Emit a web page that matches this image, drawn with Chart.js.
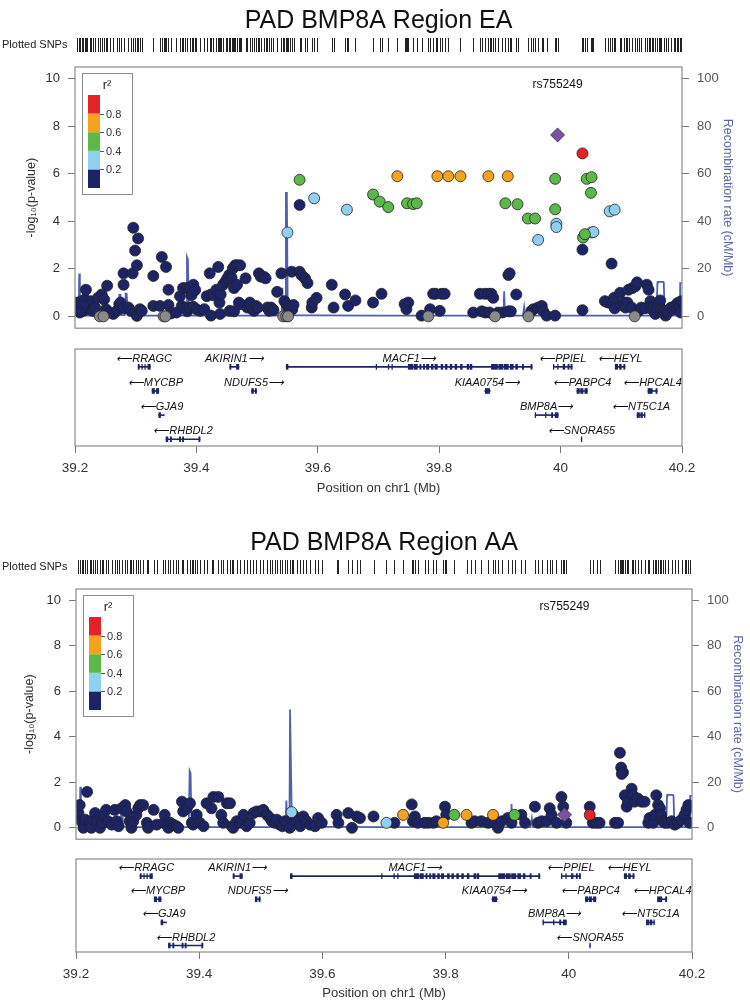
<!DOCTYPE html>
<html>
<head>
<meta charset="utf-8">
<title>PAD BMP8A Region</title>
<script src="https://cdn.jsdelivr.net/npm/chart.js@4.4.1/dist/chart.umd.min.js"></script>
<style>
  html, body { margin: 0; padding: 0; background: #fff; }
  #page { position: relative; width: 750px; height: 1006px; overflow: hidden; }
  #page canvas { position: absolute; left: 0; }
</style>
</head>
<body>
<div id="page">
  <canvas id="mainEA" width="750" height="344" style="top:0px"></canvas>
  <canvas id="genesEA" width="750" height="170" style="top:340px"></canvas>
  <canvas id="mainAA" width="750" height="333" style="top:522px"></canvas>
  <canvas id="genesAA" width="750" height="156" style="top:850px"></canvas>
</div>
<script>
'use strict';

// ---- EA association results (position Mb, -log10 p) grouped by r2 bin ----
var eaNavyPos = [
  39.204, 39.207, 39.211, 39.214, 39.216, 39.218, 39.220, 39.224, 39.226, 39.229,
  39.213, 39.208, 39.233, 39.238, 39.244, 39.248, 39.253, 39.251, 39.258, 39.263,
  39.269, 39.273, 39.275, 39.280, 39.280, 39.281, 39.288, 39.292, 39.295, 39.296,
  39.299, 39.302, 39.304, 39.302, 39.307, 39.310, 39.329, 39.329, 39.340, 39.343,
  39.350, 39.354, 39.354, 39.358, 39.367, 39.373, 39.378, 39.384, 39.389, 39.392,
  39.395, 39.398, 39.376, 39.381, 39.385, 39.389, 39.395, 39.400, 39.406, 39.413,
  39.417, 39.424, 39.422, 39.436, 39.428, 39.433, 39.438, 39.440, 39.424, 39.439,
  39.444, 39.448, 39.451, 39.454, 39.458, 39.460, 39.462, 39.464, 39.467, 39.472,
  39.467, 39.470, 39.473, 39.455, 39.462, 39.481, 39.484, 39.488, 39.492, 39.495,
  39.498, 39.501, 39.503, 39.506, 39.511, 39.514, 39.517, 39.520, 39.523, 39.527,
  39.533, 39.540, 39.545, 39.548, 39.551, 39.554, 39.558, 39.560, 39.557, 39.570,
  39.573, 39.579, 39.583, 39.590, 39.591, 39.598, 39.570, 39.623, 39.626, 39.645,
  39.650, 39.662, 39.691, 39.705, 39.743, 39.746, 39.749, 39.771, 39.785, 39.790,
  39.794, 39.804, 39.809, 39.801, 39.856, 39.867, 39.875, 39.881, 39.886, 39.889,
  39.870, 39.876, 39.883, 39.897, 39.904, 39.914, 39.918, 39.927, 39.914, 39.916,
  39.952, 39.955, 39.963, 39.969, 39.971, 39.977, 39.991, 40.036, 40.036, 40.084,
  40.073, 40.078, 40.085, 40.088, 40.089, 40.098, 40.100, 40.105, 40.107, 40.110,
  40.112, 40.118, 40.123, 40.126, 40.117, 40.129, 40.133, 40.139, 40.142, 40.145,
  40.148, 40.150, 40.153, 40.156, 40.159, 40.162, 40.164, 40.166, 40.170, 40.173,
  40.177, 40.182, 40.186, 40.188, 40.191, 40.194, 40.196, 40.198, 40.199
];
var eaNavyP = [
  0.58, 0.37, 0.64, 0.23, 0.71, 1.12, 0.51, 0.30, 0.64, 0.23,
  0.44, 0.16, 0.37, 0.78, 0.92, 0.71, 1.29, 0.30, 0.16, 0.10,
  0.23, 0.51, 0.58, 1.33, 1.81, 0.34, 0.37, 0.23, 1.81, 3.73,
  2.77, 2.15, 3.28, 0.02, 0.30, 0.23, 1.70, 0.44, 0.44, 2.50,
  2.08, 1.12, 0.48, 0.12, 0.16, 0.85, 1.19, 1.19, 1.19, 0.89,
  1.33, 1.11, 0.44, 0.34, 0.21, 0.37, 0.40, 0.30, 0.23, 0.30,
  0.85, 0.92, 1.81, 2.08, 0.89, 1.12, 0.58, 0.92, 0.03, 0.10,
  1.33, 1.47, 1.60, 1.74, 1.63, 2.02, 1.19, 2.15, 2.15, 2.15,
  1.33, 0.58, 0.51, 0.23, 0.21, 1.60, 0.37, 0.58, 0.30, 0.23,
  0.44, 0.37, 1.81, 1.67, 1.67, 1.60, 0.37, 0.23, 0.37, 0.26,
  1.03, 1.81, 0.64, 0.53, 0.42, 0.34, 0.29, 0.48, 1.88, 1.88,
  1.74, 1.60, 1.40, 0.37, 0.58, 0.78, 4.69, 1.33, 0.37, 0.92,
  0.44, 0.67, 0.58, 0.95, 0.51, 0.30, 0.58, 0.03, 0.30, 0.95,
  0.95, 0.95, 0.95, 0.23, 0.16, 0.95, 0.95, 0.95, 0.95, 0.78,
  0.21, 0.16, 0.16, 0.16, 0.16, 0.21, 0.21, 0.92, 1.74, 1.81,
  0.23, 0.30, 0.37, 0.44, 0.23, 0.03, 0.03, 2.81, 0.26, 2.22,
  0.64, 0.58, 0.53, 0.78, 0.34, 0.99, 0.48, 0.58, 0.37, 0.58,
  1.12, 1.19, 1.26, 1.43, 0.37, 0.23, 0.37, 0.34, 1.33, 1.12,
  0.64, 0.30, 0.40, 0.10, 0.37, 0.53, 0.67, 0.30, 0.23, 0.03,
  0.16, 0.37, 0.30, 0.40, 0.51, 0.58, 0.37, 0.16, 0.64
];
var eaGrayPos = [39.241, 39.247, 39.346, 39.349, 39.543, 39.548, 39.551, 39.782, 39.892, 39.947, 40.122];
var eaGrayP = [0, 0, 0, 0, 0, 0, 0, 0, 0, 0, 0];
var eaBluePos = [39.550, 39.594, 39.648, 39.963, 39.993, 39.993, 40.051, 40.054, 40.081, 40.089];
var eaBlueP = [3.53, 4.97, 4.49, 3.22, 3.90, 3.76, 3.53, 3.55, 4.42, 4.49];
var eaGreenPos = [39.570, 39.691, 39.702, 39.716, 39.747, 39.757, 39.763, 39.909, 39.929,
  39.946, 39.958, 39.991, 39.991, 40.043, 40.051, 40.050, 40.037, 40.040];
var eaGreenP = [5.75, 5.13, 4.83, 4.60, 4.76, 4.73, 4.76, 4.76, 4.72,
  4.12, 4.12, 5.79, 4.51, 5.79, 5.86, 5.20, 3.32, 3.46];
var eaOrangePos = [39.731, 39.797, 39.815, 39.835, 39.881, 39.913];
var eaOrangeP = [5.90, 5.90, 5.90, 5.90, 5.90, 5.90];
var eaRedPos = [40.036];
var eaRedP = [6.86];
var eaLeadPos = [39.995];
var eaLeadP = [7.64];

// ---- AA association results ----
var aaNavyPos = [
  39.204, 39.206, 39.209, 39.212, 39.215, 39.218, 39.223, 39.225, 39.228, 39.231,
  39.234, 39.239, 39.242, 39.244, 39.249, 39.252, 39.258, 39.263, 39.266, 39.269,
  39.274, 39.280, 39.282, 39.287, 39.290, 39.293, 39.298, 39.301, 39.304, 39.309,
  39.315, 39.317, 39.326, 39.331, 39.342, 39.344, 39.350, 39.353, 39.358, 39.363,
  39.366, 39.372, 39.374, 39.380, 39.385, 39.388, 39.390, 39.393, 39.396, 39.401,
  39.407, 39.412, 39.420, 39.423, 39.431, 39.436, 39.439, 39.445, 39.450, 39.453,
  39.455, 39.461, 39.466, 39.472, 39.477, 39.482, 39.488, 39.493, 39.499, 39.504,
  39.510, 39.515, 39.518, 39.523, 39.526, 39.531, 39.535, 39.539, 39.542, 39.547,
  39.553, 39.558, 39.564, 39.569, 39.574, 39.580, 39.588, 39.593, 39.599, 39.623,
  39.626, 39.642, 39.648, 39.656, 39.661, 39.683, 39.717, 39.745, 39.747, 39.750,
  39.755, 39.766, 39.772, 39.780, 39.785, 39.799, 39.801, 39.842, 39.847, 39.858,
  39.869, 39.880, 39.885, 39.891, 39.901, 39.907, 39.923, 39.929, 39.945, 39.950,
  39.956, 39.964, 39.969, 39.972, 39.980, 39.988, 39.991, 39.996, 40.034, 40.039,
  40.045, 40.050, 40.075, 40.080, 40.083, 40.085, 40.088, 40.086, 40.091, 40.094,
  40.096, 40.102, 40.104, 40.107, 40.112, 40.118, 40.123, 40.129, 40.131, 40.137,
  40.140, 40.142, 40.145, 40.148, 40.150, 40.153, 40.156, 40.161, 40.167, 40.172,
  40.177, 40.183, 40.188, 40.191, 40.194, 40.196
];
var aaNavyP = [
  0.65, 1.00, 0.29, 0.00, 0.36, 1.58, 0.22, 0.00, 0.36, 0.65,
  0.29, 0.00, 0.22, 0.57, 0.79, 0.29, 0.14, 0.79, 0.29, 0.07,
  0.86, 1.00, 0.72, 0.29, 0.00, 0.29, 0.57, 0.86, 1.00, 1.00,
  0.22, 0.00, 0.79, 0.14, 0.22, 0.57, 0.00, 0.22, 0.14, 0.07,
  0.00, 1.15, 0.72, 0.86, 1.08, 0.22, 0.14, 0.29, 0.57, 0.22,
  0.07, 1.08, 0.86, 1.36, 1.36, 0.57, 0.22, 1.08, 1.08, 0.07,
  0.00, 0.29, 0.22, 0.57, 0.07, 0.22, 0.65, 0.72, 0.72, 0.79,
  0.57, 0.43, 0.29, 0.22, 0.36, 0.14, 0.07, 0.29, 0.22, 0.00,
  0.57, 0.29, 0.07, 0.50, 0.29, 0.14, 0.07, 0.43, 0.22, 0.57,
  0.22, 0.65, 0.00, 0.50, 0.43, 0.50, 0.22, 1.03, 0.29, 0.50,
  0.22, 0.22, 0.22, 0.22, 0.29, 0.93, 0.57, 0.22, 0.29, 0.29,
  0.22, 0.22, 0.00, 0.29, 0.43, 0.22, 0.57, 0.22, 0.93, 0.22,
  0.29, 0.29, 0.86, 0.57, 0.22, 1.36, 0.93, 0.22, 0.93, 0.22,
  0.22, 0.22, 0.22, 0.22, 3.30, 2.65, 2.44, 2.37, 1.43, 0.93,
  1.15, 1.72, 1.43, 1.15, 1.29, 1.15, 1.15, 0.22, 0.43, 0.22,
  0.57, 1.43, 1.00, 0.86, 0.57, 0.29, 0.22, 0.22, 0.29, 0.14,
  0.22, 0.36, 0.57, 0.79, 1.00, 0.22
];
var aaGrayPos = [];
var aaGrayP = [];
var aaBluePos = [39.550, 39.704];
var aaBlueP = [0.69, 0.22];
var aaGreenPos = [39.814, 39.912];
var aaGreenP = [0.57, 0.57];
var aaOrangePos = [39.731, 39.796, 39.834, 39.877];
var aaOrangeP = [0.57, 0.22, 0.57, 0.57];
var aaRedPos = [40.034];
var aaRedP = [0.57];
var aaLeadPos = [39.993];
var aaLeadP = [0.57];

// ---- recombination rate (cM/Mb), same map for both panels ----
var recombPos = [
  39.200, 39.2045, 39.206, 39.207, 39.208, 39.210, 39.2125, 39.214, 39.2155, 39.220,
  39.270, 39.2715, 39.273, 39.275, 39.2765, 39.282, 39.2835, 39.285, 39.2875, 39.289,
  39.380, 39.383, 39.3845, 39.386, 39.3875, 39.391,
  39.530, 39.5405, 39.5415, 39.543, 39.5465, 39.5475, 39.549, 39.5505, 39.552, 39.556,
  39.600, 39.700, 39.900, 39.906, 39.907, 39.9085, 39.912, 39.938, 39.940, 39.942,
  40.100, 40.158, 40.1595, 40.160, 40.169, 40.170, 40.1715, 40.190, 40.1965, 40.197, 40.200
];
var recombRate = [
  5, 1, 1, 18, 1, 0.5, 0.5, 5, 0.5, 0.3,
  0.3, 0.5, 9, 9, 0.5, 0.5, 9.5, 9.5, 0.5, 0.3,
  0.3, 0.3, 25, 24, 0.5, 0.3,
  0.3, 0.5, 12, 0.5, 0.5, 52, 52, 0.5, 0.5, 0.4,
  0.4, 0.3, 0.3, 0.3, 10.5, 0.3, 0.3, 0.3, 4, 0.3,
  0.3, 0.3, 14, 14.5, 14.5, 14, 0.5, 0.3, 0.3, 14, 14
];

// ---- genes ----
var geneNames  = ['RRAGC', 'MYCBP', 'GJA9', 'RHBDL2', 'AKIRIN1', 'NDUFS5', 'MACF1', 'KIAA0754',
                  'PPIEL', 'PABPC4', 'BMP8A', 'SNORA55', 'HEYL', 'HPCAL4', 'NT5C1A'];
var geneStart  = [39.304, 39.327, 39.338, 39.350, 39.455, 39.491, 39.548, 39.875,
                  39.988, 40.027, 39.958, 40.034, 40.090, 40.144, 40.126];
var geneEnd    = [39.324, 39.338, 39.347, 39.406, 39.470, 39.499, 39.953, 39.884,
                  40.019, 40.044, 39.996, 40.035, 40.106, 40.159, 40.139];
var geneRow    = [1, 2, 3, 4, 1, 2, 1, 2, 1, 2, 3, 4, 1, 2, 3];
var geneStrand = [-1, -1, -1, -1, 1, 1, 1, 1, -1, -1, 1, -1, -1, -1, -1];
var geneExons  = [
  [[39.304, 39.306], [39.310, 39.311], [39.315, 39.316], [39.320, 39.324]],
  [[39.327, 39.331], [39.334, 39.338]],
  [[39.338, 39.341]],
  [[39.350, 39.353], [39.357, 39.359], [39.372, 39.374], [39.377, 39.379], [39.404, 39.406]],
  [[39.455, 39.457], [39.466, 39.470]],
  [[39.491, 39.494], [39.497, 39.499]],
  [[39.548, 39.551], [39.696, 39.697], [39.716, 39.717], [39.722, 39.723], [39.749, 39.757],
   [39.759, 39.764], [39.768, 39.770], [39.774, 39.776], [39.779, 39.783], [39.787, 39.790],
   [39.793, 39.797], [39.803, 39.806], [39.810, 39.813], [39.818, 39.821], [39.826, 39.829],
   [39.835, 39.838], [39.846, 39.849], [39.851, 39.854], [39.886, 39.896], [39.898, 39.905],
   [39.907, 39.914], [39.917, 39.922], [39.926, 39.929], [39.937, 39.939], [39.951, 39.953]],
  [[39.876, 39.883]],
  [[39.988, 39.989], [39.995, 39.996], [40.004, 40.007], [40.012, 40.014], [40.017, 40.019]],
  [[40.027, 40.031], [40.033, 40.037], [40.040, 40.044]],
  [[39.958, 39.959], [39.975, 39.976], [39.985, 39.987], [39.991, 39.996]],
  [[40.034, 40.035]],
  [[40.090, 40.094], [40.097, 40.100], [40.104, 40.106]],
  [[40.144, 40.151], [40.157, 40.159]],
  [[40.126, 40.130], [40.132, 40.135], [40.138, 40.139]]
];

// ---- axes ----
var pTicks = [0, 2, 4, 6, 8, 10];
var recombTicks = [0, 20, 40, 60, 80, 100];
var posTicks = [39.2, 39.4, 39.6, 39.8, 40.0, 40.2];
var ldBreaks = ['0.2', '0.4', '0.6', '0.8'];

var FONT = '"Liberation Sans", Arial, Helvetica, sans-serif';
var NAVY = '#1c2466';
var LIGHTBLUE = '#8fd0f0';
var GREEN = '#5cb848';
var ORANGE = '#f5a21c';
var RED = '#e3222a';
var GRAY = '#8a8a8a';
var PURPLE = '#7a52a0';
var RECOMB = '#5060b0';
var BOX = '#8c8c8c';
var ldColors = [NAVY, LIGHTBLUE, GREEN, ORANGE, RED];

Chart.defaults.font.family = FONT;
Chart.defaults.color = '#333';

function pts(xs, ys) {
  return xs.map(function(x, i) { return {x: x, y: ys[i]}; });
}

function snps(xs, ys, color, order) {
  return {
    data: pts(xs, ys),
    backgroundColor: color,
    borderColor: '#222',
    borderWidth: 0.8,
    pointRadius: 5.5,
    order: order
  };
}

function fixTicks(list) {
  return function(scale) {
    scale.ticks = list.map(function(v) { return {value: v}; });
  };
}

function mainDecor(spec) {
  return {
    id: 'mainDecor',
    afterDraw: function(chart) {
      var ctx = chart.ctx, a = chart.chartArea, xs = chart.scales.x;
      ctx.save();

      // title
      ctx.fillStyle = '#111';
      ctx.font = '25px ' + FONT;
      ctx.textAlign = 'center';
      ctx.textBaseline = 'middle';
      ctx.fillText(spec.title, (a.left + a.right) / 2, a.top - 46);

      // rug of plotted SNPs
      ctx.font = '11px ' + FONT;
      ctx.textAlign = 'left';
      ctx.fillStyle = '#222';
      ctx.fillText('Plotted SNPs', 2, a.top - 22);
      ctx.strokeStyle = '#222';
      ctx.lineWidth = 1;
      ctx.beginPath();
      spec.rug.forEach(function(p) {
        var x = Math.round(xs.getPixelForValue(p)) + 0.5;
        ctx.moveTo(x, a.top - 29);
        ctx.lineTo(x, a.top - 15);
      });
      ctx.stroke();

      // plot frame
      ctx.strokeStyle = BOX;
      ctx.lineWidth = 1.2;
      ctx.strokeRect(a.left, a.top, a.right - a.left, a.bottom - a.top);

      // r2 legend
      var lx = a.left + 7, ly = a.top + 6, lw = 50, lh = 121;
      ctx.fillStyle = '#fff';
      ctx.fillRect(lx, ly, lw, lh);
      ctx.strokeStyle = BOX;
      ctx.lineWidth = 1;
      ctx.strokeRect(lx + 0.5, ly + 0.5, lw, lh);
      ctx.fillStyle = '#222';
      ctx.font = '13px ' + FONT;
      ctx.textAlign = 'center';
      ctx.fillText('r\u00b2', lx + 25, ly + 12);
      var bx = lx + 6, by = ly + 22, bw = 12, bh = 93, seg = bh / 5;
      ldColors.forEach(function(c, i) {
        ctx.fillStyle = c;
        ctx.fillRect(bx, by + bh - (i + 1) * seg, bw, seg);
      });
      ctx.font = '11px ' + FONT;
      ctx.textAlign = 'left';
      ctx.strokeStyle = '#555';
      ldBreaks.forEach(function(t, i) {
        var y = Math.round(by + bh - (i + 1) * seg) + 0.5;
        ctx.beginPath();
        ctx.moveTo(bx + bw, y);
        ctx.lineTo(bx + bw + 4, y);
        ctx.stroke();
        ctx.fillStyle = '#333';
        ctx.fillText(t, bx + bw + 6, y);
      });

      // lead SNP name
      ctx.fillStyle = '#111';
      ctx.font = '12px ' + FONT;
      ctx.textAlign = 'center';
      ctx.fillText(spec.leadName, xs.getPixelForValue(spec.lead[0][0]), a.top + 18);
      ctx.restore();
    }
  };
}

function makeMain(id, spec) {
  spec.rug = [].concat(spec.navy[0], spec.gray[0], spec.blue[0], spec.green[0],
                       spec.orange[0], spec.red[0], spec.lead[0]);
  var datasets = [
    {
      data: pts(recombPos, recombRate),
      yAxisID: 'y2',
      showLine: true,
      pointRadius: 0,
      borderColor: RECOMB,
      borderWidth: 1.8,
      tension: 0,
      order: 10
    },
    snps(spec.navy[0], spec.navy[1], NAVY, 6),
    snps(spec.gray[0], spec.gray[1], GRAY, 5),
    snps(spec.blue[0], spec.blue[1], LIGHTBLUE, 4),
    snps(spec.green[0], spec.green[1], GREEN, 3),
    snps(spec.orange[0], spec.orange[1], ORANGE, 2),
    snps(spec.red[0], spec.red[1], RED, 1),
    {
      data: pts(spec.lead[0], spec.lead[1]),
      backgroundColor: PURPLE,
      borderColor: '#333',
      borderWidth: 0.8,
      pointStyle: 'rectRot',
      pointRadius: 7,
      order: 0
    }
  ];
  return new Chart(document.getElementById(id), {
    type: 'scatter',
    data: { datasets: datasets },
    options: {
      responsive: false,
      animation: false,
      events: [],
      layout: { padding: { top: 67, bottom: 10, left: 0, right: 0 } },
      plugins: { legend: { display: false }, tooltip: { enabled: false } },
      scales: {
        x: { type: 'linear', min: 39.2, max: 40.2, display: false },
        y: {
          position: 'left',
          min: -0.5,
          max: 10.5,
          afterBuildTicks: fixTicks(pTicks),
          afterFit: function(s) { s.width = spec.left; },
          border: { display: false },
          grid: { drawOnChartArea: false, tickLength: 7, color: '#777' },
          ticks: { color: '#333', font: { size: 13 }, padding: 8,
                   callback: function(v) { return String(v); } },
          title: { display: true, text: '-log\u2081\u2080(p-value)', color: '#333',
                   font: { size: 12.5 }, padding: { top: spec.yTitlePad, bottom: 0 } }
        },
        y2: {
          position: 'right',
          min: -5,
          max: 105,
          afterBuildTicks: fixTicks(recombTicks),
          afterFit: function(s) { s.width = spec.right; },
          border: { display: false },
          grid: { drawOnChartArea: false, tickLength: 7, color: '#777' },
          ticks: { color: '#555', font: { size: 13 }, padding: 8,
                   callback: function(v) { return String(v); } },
          title: { display: true, text: 'Recombination rate (cM/Mb)', color: '#5d68a8',
                   font: { size: 12.5 }, padding: { top: spec.y2TitlePad, bottom: 0 } }
        }
      }
    },
    plugins: [mainDecor(spec)]
  });
}

var geneDecor = {
  id: 'geneDecor',
  afterDraw: function(chart) {
    var ctx = chart.ctx, a = chart.chartArea, xs = chart.scales.x, ys = chart.scales.y;
    ctx.save();
    ctx.strokeStyle = BOX;
    ctx.lineWidth = 1.2;
    ctx.strokeRect(a.left, a.top, a.right - a.left, a.bottom - a.top);
    ctx.font = 'italic 11px ' + FONT;
    ctx.fillStyle = '#111';
    ctx.textAlign = 'center';
    ctx.textBaseline = 'middle';
    geneNames.forEach(function(name, i) {
      var label = geneStrand[i] < 0 ? '\u27f5' + name : name + '\u27f6';
      var x = xs.getPixelForValue((geneStart[i] + geneEnd[i]) / 2);
      var y = ys.getPixelForValue(geneRow[i]) - 8;
      ctx.fillText(label, x, y);
    });
    ctx.restore();
  }
};

function makeGenes(id, spec) {
  var spans = geneNames.map(function(n, i) {
    return { x: [geneStart[i], geneEnd[i]], y: geneRow[i] };
  });
  var exons = [];
  geneExons.forEach(function(list, i) {
    list.forEach(function(e) { exons.push({ x: e, y: geneRow[i] }); });
  });
  return new Chart(document.getElementById(id), {
    type: 'bar',
    data: {
      datasets: [
        { data: exons, backgroundColor: NAVY, barThickness: 5, grouped: false, order: 0 },
        { data: spans, backgroundColor: NAVY, barThickness: 1, grouped: false, order: 1 }
      ]
    },
    options: {
      indexAxis: 'y',
      responsive: false,
      animation: false,
      events: [],
      layout: { padding: { top: spec.top, bottom: spec.bottom, left: spec.left, right: spec.right } },
      plugins: { legend: { display: false }, tooltip: { enabled: false } },
      scales: {
        x: {
          type: 'linear',
          position: 'bottom',
          min: 39.2,
          max: 40.2,
          afterBuildTicks: fixTicks(posTicks),
          afterFit: function(s) { s.height = spec.axisH; },
          border: { display: false },
          grid: { drawOnChartArea: false, tickLength: 7, color: '#777' },
          ticks: { color: '#333', font: { size: 13.5 }, padding: 7, maxRotation: 0,
                   callback: function(v) { return String(Math.round(v * 10) / 10); } },
          title: { display: true, text: 'Position on chr1 (Mb)', color: '#333',
                   font: { size: 13 }, padding: { top: 0, bottom: spec.titlePad } }
        },
        y: { type: 'linear', display: false, reverse: true, min: 0.26, max: 4.28, offset: false }
      }
    },
    plugins: [geneDecor]
  });
}

makeMain('mainEA', {
  title: 'PAD BMP8A Region EA',
  leadName: 'rs755249',
  left: 75, right: 68, yTitlePad: 24, y2TitlePad: 15.5,
  navy: [eaNavyPos, eaNavyP], gray: [eaGrayPos, eaGrayP], blue: [eaBluePos, eaBlueP],
  green: [eaGreenPos, eaGreenP], orange: [eaOrangePos, eaOrangeP], red: [eaRedPos, eaRedP],
  lead: [eaLeadPos, eaLeadP]
});
makeGenes('genesEA', { top: 9, bottom: 4, left: 75, right: 68, axisH: 60, titlePad: 9.5 });

makeMain('mainAA', {
  title: 'PAD BMP8A Region AA',
  leadName: 'rs755249',
  left: 76, right: 58, yTitlePad: 22.5, y2TitlePad: 5.5,
  navy: [aaNavyPos, aaNavyP], gray: [aaGrayPos, aaGrayP], blue: [aaBluePos, aaBlueP],
  green: [aaGreenPos, aaGreenP], orange: [aaOrangePos, aaOrangeP], red: [aaRedPos, aaRedP],
  lead: [aaLeadPos, aaLeadP]
});
makeGenes('genesAA', { top: 9, bottom: 4, left: 76, right: 58, axisH: 50, titlePad: 1 });
</script>
</body>
</html>
